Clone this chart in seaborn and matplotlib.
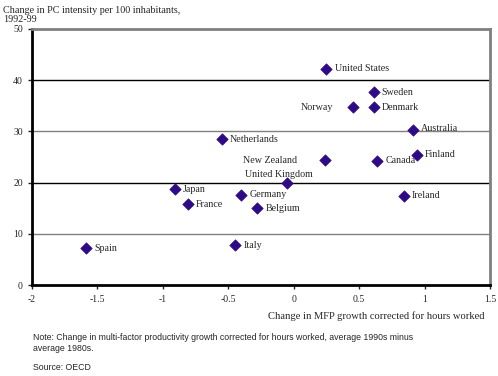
import matplotlib
matplotlib.use('Agg')
import matplotlib.pyplot as plt
import seaborn as sns
import pandas as pd

countries = ['United States', 'Sweden', 'Denmark', 'Norway', 'Australia', 'Finland',
             'New Zealand', 'Canada', 'United Kingdom', 'Ireland', 'Belgium', 'Germany',
             'Japan', 'France', 'Spain', 'Italy', 'Netherlands']
mfp_change = [0.25, 0.61, 0.61, 0.45, 0.91, 0.94,
              0.24, 0.64, -0.05, 0.84, -0.28, -0.40,
              -0.91, -0.81, -1.59, -0.45, -0.55]
pc_change = [42.2, 37.6, 34.7, 34.7, 30.3, 25.3,
             24.4, 24.3, 19.9, 17.4, 15.0, 17.6,
             18.7, 15.8, 7.2, 7.8, 28.5]
# label placement: (dx, dy) in points, horizontal alignment
label_pos = {'Norway': (-14, 0, 'right'), 'New Zealand': (-20, 0, 'right'),
             'United Kingdom': (-6, 6, 'center'), 'Australia': (6, 1, 'left'),
             'Finland': (6, 1, 'left')}

df = pd.DataFrame({'country': countries, 'mfp': mfp_change, 'pc': pc_change})

sns.set_style('white')
plt.rcParams['font.family'] = ['Liberation Serif', 'DejaVu Serif']

fig = plt.figure(figsize=(4.98, 3.76), dpi=100)
ax = fig.add_axes([0.064, 0.242, 0.92, 0.681])

for y, c in zip([10, 20, 30, 40], ['#808080', 'black', '#808080', 'black']):
    ax.axhline(y, color=c, lw=1.0, zorder=1)

sns.scatterplot(data=df, x='mfp', y='pc', marker='D', s=34, color='#2E0A87',
                edgecolor='#2E0A87', ax=ax, zorder=3, legend=False)

for name, x, y in zip(countries, mfp_change, pc_change):
    dx, dy, ha = label_pos.get(name, (6, 0, 'left'))
    ax.annotate(name, (x, y), xytext=(dx, dy), textcoords='offset points',
                ha=ha, va='center', fontsize=7.2)

ax.set_xlim(-2, 1.5)
ax.set_ylim(0, 50)
ax.set_xticks([-2, -1.5, -1, -0.5, 0, 0.5, 1, 1.5])
ax.set_xticklabels(['-2', '-1.5', '-1', '-0.5', '0', '0.5', '1', '1.5'])
ax.set_yticks([0, 10, 20, 30, 40, 50])
ax.tick_params(axis='both', labelsize=7, length=3, width=1, direction='out',
               left=True, bottom=True)
ax.tick_params(axis='x', pad=4)
ax.set_xlabel('')
ax.set_ylabel('')

ax.spines['left'].set_color('black')
ax.spines['left'].set_linewidth(2)
ax.spines['bottom'].set_color('black')
ax.spines['bottom'].set_linewidth(2)
ax.spines['top'].set_color('#808080')
ax.spines['top'].set_linewidth(2)
ax.spines['right'].set_color('#808080')
ax.spines['right'].set_linewidth(2)

fig.text(0.006, 0.985, 'Change in PC intensity per 100 inhabitants,\n1992-99',
         fontsize=7.3, va='top', ha='left', linespacing=1.1)
fig.text(0.972, 0.16, 'Change in MFP growth corrected for hours worked',
         fontsize=7.6, ha='right', va='center')

fig.text(0.066, 0.088, 'Note: Change in multi-factor productivity growth corrected for hours worked, average 1990s minus\naverage 1980s.',
         fontsize=6.3, ha='left', va='center', family='Liberation Sans', linespacing=1.3)
fig.text(0.066, 0.022, 'Source: OECD', fontsize=6.3, ha='left', va='center',
         family='Liberation Sans')

fig.savefig('out.png', dpi=100)
